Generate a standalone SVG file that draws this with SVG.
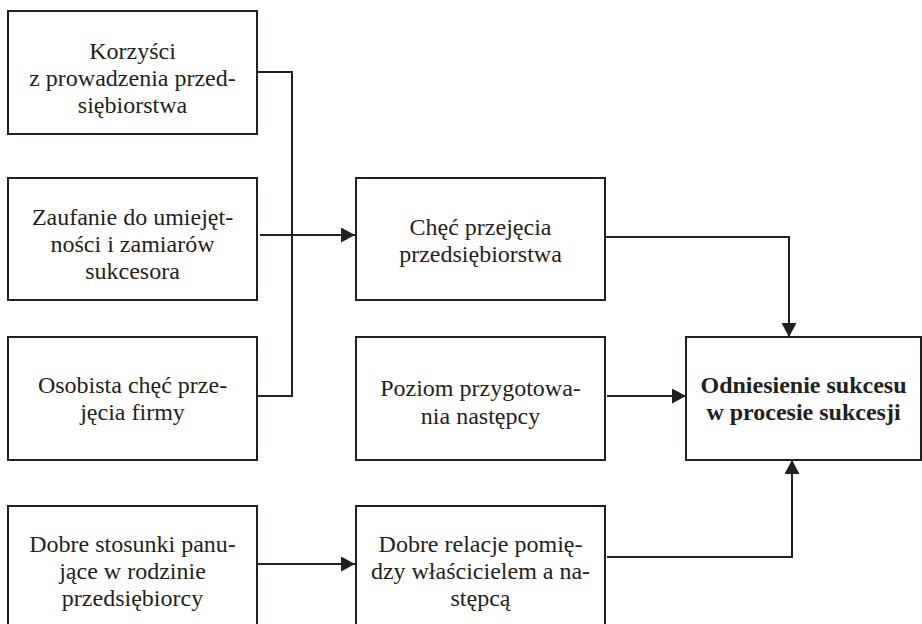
<svg xmlns="http://www.w3.org/2000/svg" width="922" height="624" viewBox="0 0 922 624">
<style>
.box{fill:#fff;stroke:#231f20;stroke-width:2}
text{font-family:'Liberation Serif','Times New Roman',serif;font-size:24px;fill:#231f20;text-anchor:middle}
.b{font-weight:bold}
.c{fill:none;stroke:#231f20;stroke-width:2}
</style>
<defs>
<marker id="ah" markerUnits="userSpaceOnUse" markerWidth="15" markerHeight="15" refX="14" refY="7.5" orient="auto">
<path d="M0,0 L14,7.5 L0,15 Z" fill="#231f20"/>
</marker>
</defs>
<rect width="922" height="624" fill="#fff"/>
<g id="connectors">
<path class="c" d="M257,72 H292 V396 H257"/>
<path class="c" d="M260,235 H355" marker-end="url(#ah)"/>
<path class="c" d="M605,237 H789 V337" marker-end="url(#ah)"/>
<path class="c" d="M607,396 H686" marker-end="url(#ah)"/>
<path class="c" d="M257,564 H355" marker-end="url(#ah)"/>
<path class="c" d="M607,557 H792 V460" marker-end="url(#ah)"/>
</g>
<g id="n1"><rect class="box" x="8" y="11" width="249" height="123"/>
<text x="132.5" y="59">Korzyści</text><text x="132.5" y="86">z prowadzenia przed-</text><text x="132.5" y="113">siębiorstwa</text></g>
<g id="n2"><rect class="box" x="8" y="178" width="249" height="122"/>
<text x="132.5" y="225">Zaufanie do umiejęt-</text><text x="132.5" y="252">ności i zamiarów</text><text x="132.5" y="279">sukcesora</text></g>
<g id="n3"><rect class="box" x="8" y="337" width="249" height="123"/>
<text x="132.5" y="393">Osobista chęć prze-</text><text x="132.5" y="420">jęcia firmy</text></g>
<g id="n4"><rect class="box" x="8" y="506" width="249" height="123"/>
<text x="132.5" y="552">Dobre stosunki panu-</text><text x="132.5" y="579">jące w rodzinie</text><text x="132.5" y="606">przedsiębiorcy</text></g>
<g id="n5"><rect class="box" x="356" y="178" width="249" height="122"/>
<text x="480.5" y="235">Chęć przejęcia</text><text x="480.5" y="262">przedsiębiorstwa</text></g>
<g id="n6"><rect class="box" x="356" y="337" width="249" height="123"/>
<text x="480.5" y="396">Poziom przygotowa-</text><text x="480.5" y="424">nia następcy</text></g>
<g id="n7"><rect class="box" x="686" y="337" width="235" height="123"/>
<text class="b" x="803.5" y="393">Odniesienie sukcesu</text><text class="b" x="803.5" y="420">w procesie sukcesji</text></g>
<g id="n8"><rect class="box" x="356" y="506" width="249" height="123"/>
<text x="480.5" y="552">Dobre relacje pomię-</text><text x="480.5" y="579">dzy właścicielem a na-</text><text x="480.5" y="606">stępcą</text></g>
</svg>
